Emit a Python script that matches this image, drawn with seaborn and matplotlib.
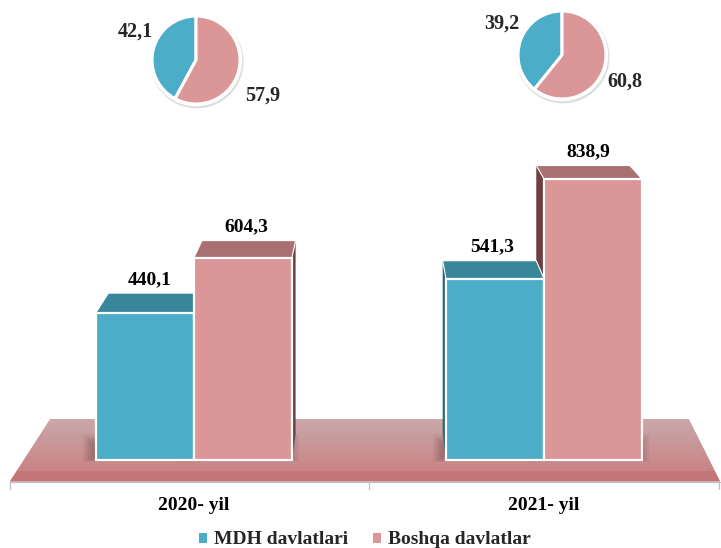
import numpy as np
import pandas as pd
import matplotlib
matplotlib.use('Agg')
import matplotlib.pyplot as plt
import matplotlib.transforms as mtransforms
import seaborn as sns
from matplotlib.patches import Polygon, Patch, Circle, Rectangle
from matplotlib.colors import to_rgb

# ---------------- data ----------------
years = ['2020- yil', '2021- yil']
series = ['MDH davlatlari', 'Boshqa davlatlar']
mdh_values = [440.1, 541.3]
other_values = [604.3, 838.9]
mdh_labels = ['440,1', '541,3']
other_labels = ['604,3', '838,9']
mdh_share = [42.1, 39.2]
other_share = [57.9, 60.8]
mdh_share_labels = ['42,1', '39,2']
other_share_labels = ['57,9', '60,8']

# ---------------- style ----------------
FRONT = {'MDH davlatlari': '#4BADC7', 'Boshqa davlatlar': '#DB9697'}
TOP = {'MDH davlatlari': '#37869A', 'Boshqa davlatlar': '#A97072'}
SIDE = {'MDH davlatlari': '#2A6878', 'Boshqa davlatlar': '#6E3F40'}
FS = 14

sns.set_theme(style='white')
plt.rcParams['font.family'] = ['Liberation Serif', 'DejaVu Serif']
plt.rcParams['font.weight'] = 'bold'

W, H = 721, 548
fig = plt.figure(figsize=(W / 100, H / 100), dpi=100)
fig.patch.set_facecolor('white')


def fpx(x, y):
    """pixel (from top-left) -> figure fraction"""
    return (x / W, 1 - y / H)


ax = fig.add_axes([0, 0, 1, 1])
ax.set_axis_off()

# ---------------- floor ----------------
floor_top, floor_bot = 419.0, 481.0
tl, tr, bl, br = 50.0, 689.0, 10.0, 720.0
c_top = np.array(to_rgb('#C8A8AA'))
c_bot = np.array(to_rgb('#C98283'))
c_edge = np.array(to_rgb('#C27677'))
n = 62
for i in range(n):
    y1 = floor_top + (floor_bot - floor_top) * i / n
    y2 = floor_top + (floor_bot - floor_top) * (i + 1) / n
    def xl(y):
        return tl + (bl - tl) * (y - floor_top) / (floor_bot - floor_top)
    def xr(y):
        return tr + (br - tr) * (y - floor_top) / (floor_bot - floor_top)
    if y1 >= 471:
        col = c_edge
    else:
        t = (y1 - floor_top) / (471 - floor_top)
        col = c_top * (1 - t) + c_bot * t
    pts = [fpx(xl(y1), y1), fpx(xr(y1), y1), fpx(xr(y2), y2 + 0.6), fpx(xl(y2), y2 + 0.6)]
    fig.add_artist(Polygon(pts, closed=True, transform=fig.transFigure,
                           facecolor=col, edgecolor='none', zorder=0))

# axis line with ticks
fig.add_artist(plt.Line2D([10 / W, 720 / W], [1 - 482 / H] * 2, transform=fig.transFigure,
                          color='#BFBFBF', lw=0.9, zorder=1))
for xt in (10, 369, 719):
    fig.add_artist(plt.Line2D([xt / W] * 2, [1 - 482 / H, 1 - 489 / H], transform=fig.transFigure,
                              color='#BFBFBF', lw=0.9, zorder=1))

# ---------------- bars ----------------
x0px, unitpx = 194.0, 350.0
base_from_top = 460.0
ppu = 0.335

df = pd.DataFrame({
    'year': years + years,
    'series': [series[0]] * 2 + [series[1]] * 2,
    'value': mdh_values + other_values,
})
sns.barplot(data=df, x='year', y='value', hue='series', order=years, hue_order=series,
            palette=FRONT, saturation=1, width=0.56, gap=0, edgecolor='white',
            linewidth=1.6, legend=False, ax=ax, zorder=4, err_kws={'linewidth': 0})
ax.set_xlim(-x0px / unitpx, (W - x0px) / unitpx)
ax.set_ylim(-(H - base_from_top) / ppu, base_from_top / ppu)
ax.set_axis_off()

label_of = {}
for k, yr in enumerate(years):
    label_of[(k, series[0])] = mdh_labels[k]
    label_of[(k, series[1])] = other_labels[k]

# perspective depth of the 3-D look (display pixels, origin bottom-left)
V = np.array([372.0, H + 120.0])
kd = 0.955
inv = ax.transData.inverted()


def back(p):
    return V + kd * (np.asarray(p) - V)


bars = [p for p in ax.patches if isinstance(p, Rectangle) and p.get_height() > 0]
for bar in bars:
    fc = to_rgb(bar.get_facecolor()[:3])
    s = series[0] if np.allclose(fc, to_rgb(FRONT[series[0]]), atol=0.02) else series[1]
    x_l, x_r = bar.get_x(), bar.get_x() + bar.get_width()
    top = bar.get_height()
    FL = ax.transData.transform((x_l, top))
    FR = ax.transData.transform((x_r, top))
    FLb = ax.transData.transform((x_l, 0))
    FRb = ax.transData.transform((x_r, 0))
    BL, BR, BLb, BRb = back(FL), back(FR), back(FLb), back(FRb)
    # soft shadow on the floor
    for j in range(8):
        pad = 1.8 * j
        xs0, xs1 = FLb[0] - 13 + pad, FRb[0] + 7 - pad
        ys0, ys1 = FLb[1] - 2 + pad * 0.4, FLb[1] + 26 - pad
        pts = inv.transform([(xs0, ys0), (xs1, ys0), (xs1, ys1), (xs0, ys1)])
        ax.add_patch(Polygon(pts, closed=True, facecolor='#3A2020', edgecolor='none',
                             alpha=0.05, zorder=1))
    # side faces
    if BL[0] < FL[0] - 0.5:
        pts = inv.transform([FL, BL, BLb, FLb])
        ax.add_patch(Polygon(pts, closed=True, facecolor=SIDE[s], edgecolor='none', zorder=2))
    if BR[0] > FR[0] + 0.5:
        pts = inv.transform([FR, BR, BRb, FRb])
        ax.add_patch(Polygon(pts, closed=True, facecolor=SIDE[s], edgecolor='none', zorder=2))
    # top face
    pts = inv.transform([FL, FR, BR, BL])
    ax.add_patch(Polygon(pts, closed=True, facecolor=TOP[s], edgecolor='white',
                         linewidth=0.8, zorder=3))
    # value label
    k = int(round((x_l + x_r) / 2))
    cx = (FL[0] + FR[0] + BL[0] + BR[0]) / 4
    ty = BL[1] + 5
    lx, ly = inv.transform((cx, ty))
    ax.text(lx, ly, label_of[(k, s)], ha='center', va='bottom', fontsize=FS,
            fontweight='bold', color='black', zorder=6)

# category labels
blend = mtransforms.blended_transform_factory(ax.transData, fig.transFigure)
for k, yr in enumerate(years):
    ax.text(k, 1 - 505 / H, yr, transform=blend, ha='center', va='center',
            fontsize=FS, fontweight='bold', color='black')

# ---------------- pies ----------------
pie_centers = [(196.0, 60.0), (562.0, 55.0)]
R = 44.0
left_off = [(-61, -28), (-60, -31)]
right_off = [(67, 36), (63, 27)]
for k, (cx, cy) in enumerate(pie_centers):
    pax = fig.add_axes([(cx - R * 1.2) / W, 1 - (cy + R * 1.2) / H, 2.4 * R / W, 2.4 * R / H])
    pax.add_patch(Circle((0.02, -0.04), 1.06, facecolor='#DEDEDE', edgecolor='none', zorder=0))
    pax.add_patch(Circle((0, 0), 1.05, facecolor='white', edgecolor='none', zorder=0.5))
    pax.pie([mdh_share[k], other_share[k]], colors=[FRONT[series[0]], FRONT[series[1]]],
            startangle=90, counterclock=True, radius=1.0,
            wedgeprops=dict(edgecolor='white', linewidth=2.2))
    pax.set_xlim(-1.2, 1.2)
    pax.set_ylim(-1.2, 1.2)
    pax.set_aspect('auto')
    pax.set_axis_off()
    fig.text(*fpx(cx + left_off[k][0], cy + left_off[k][1]), mdh_share_labels[k],
             ha='center', va='center', fontsize=FS + 0.5, fontweight='bold')
    fig.text(*fpx(cx + right_off[k][0], cy + right_off[k][1]), other_share_labels[k],
             ha='center', va='center', fontsize=FS + 0.5, fontweight='bold')

# ---------------- legend ----------------
handles = [Patch(facecolor=FRONT[s], edgecolor='none', label=s) for s in series]
fig.legend(handles=handles, loc='center', bbox_to_anchor=(365 / W, 1 - 540 / H), ncol=2,
           frameon=False, handlelength=0.42, handleheight=0.42, handletextpad=0.35,
           columnspacing=1.3, prop={'weight': 'bold', 'size': FS})

fig.savefig('out.png', dpi=100, facecolor='white')
